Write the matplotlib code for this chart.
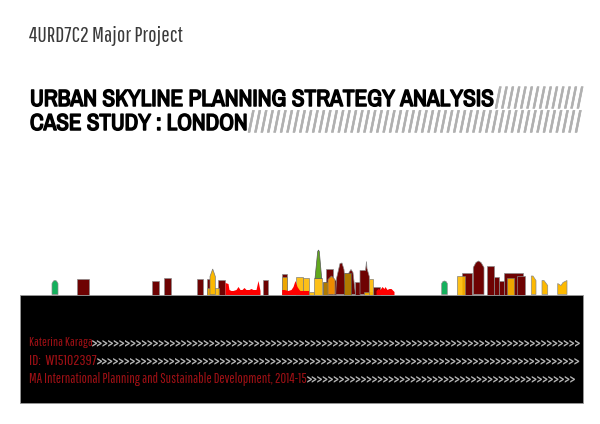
import matplotlib
matplotlib.use('Agg')
import matplotlib.pyplot as plt
import matplotlib.patheffects as pe
import logging

logging.getLogger('matplotlib.font_manager').setLevel(logging.ERROR)

LIGHT = ['Barlow Condensed Light', 'Pathway Gothic One', 'Liberation Sans', 'DejaVu Sans']
HEAVY = ['Archivo Narrow', 'Roboto Condensed', 'Liberation Sans', 'DejaVu Sans']
CHEVRON = ['Fjalla One', 'Roboto Condensed', 'Liberation Sans', 'DejaVu Sans']

heading = '4URD7C2 Major Project'
title_1 = 'URBAN SKYLINE PLANNING STRATEGY ANALYSIS'
title_2 = 'CASE STUDY : LONDON'
info_lines = ['Katerina Karaga', 'ID:  W15102397',
              'MA International Planning and Sustainable Development, 2014-15']

# building footprints, height measured from the top of the black band
dark_x0 = [76.7, 151.7, 164.3, 196.7, 206.7, 218, 263, 281.7, 326, 333, 355, 373, 461.7, 486.7, 494.3, 499, 504, 517]
dark_x1 = [89, 158.7, 171, 203.3, 213, 225, 268, 287.3, 333, 336, 360, 380, 471.7, 494.3, 499, 504, 522.7, 525]
dark_h = [15.5, 14, 17, 16, 15.5, 14.5, 14.5, 20.5, 25.5, 15, 13, 8, 22, 28.5, 18, 14, 21.5, 18.5]

yellow_x0 = [206.7, 281.7, 296, 303.3, 309, 314, 364, 369, 456.7, 506.7]
yellow_x1 = [219, 287.3, 302.7, 309, 314, 322, 372, 373, 465, 514]
yellow_h = [6.5, 17.5, 17.5, 17, 2.5, 17, 3, 15.5, 18.5, 16.5]

olive_x0 = [322.7, 344]
olive_x1 = [328, 350.7]
olive_h = [13, 22]

# shaped buildings
spire_x = [210, 210, 212.7, 215.3, 215.3]
spire_y = [0, 18, 25.5, 18, 0]
shard_x = [315, 317.7, 318.5, 319.3, 321.7]
shard_y = [16, 43, 44.5, 43, 16]
tower_x = [473.3, 473.3, 476, 478.5, 481, 484, 484]
tower_y = [0, 27, 32, 33.5, 32, 27, 0]
peak_x = [335.7, 336.5, 340, 342, 344, 346]
peak_y = [0, 16, 31, 31.5, 25, 0]
round_x = [347, 349, 351, 353, 355.5]
round_y = [0, 22, 25, 22, 0]
spike_x = [360, 360, 365.5, 366.5, 367, 369.3, 369.3]
spike_y = [0, 24, 24, 33, 26, 18, 0]
green_x = [52, 52, 53.5, 55, 56.5, 58, 58]
green_y = [0, 11, 13.5, 14, 13.5, 11, 0]
green2_x = [441.7, 441.7, 443, 444.5, 446, 447.3, 447.3]
green2_y = [0, 11, 13, 13.5, 13, 11, 0]
orange_x = [328, 328, 331.5, 335, 335]
orange_y = [0, 15, 18.5, 15, 0]
wedge_x = [[531.3, 531.3, 533, 536, 536], [542, 542, 544, 547.7, 547.7], [557.7, 557.7, 561, 563, 567, 567]]
wedge_y = [[0, 18.5, 18.5, 14, 0], [0, 14, 14, 9, 0], [0, 11, 9, 12, 14, 0]]

# low red river-front profile
red_x = [225, 228, 229, 231, 233, 236, 238, 240, 242, 244, 246, 249, 251, 253, 256, 258, 260]
red_h = [12, 11, 5, 4, 4, 5, 8, 5, 5, 7, 5, 5, 6, 5, 5, 14, 4]
red2_x = [281.7, 284, 288, 291, 293, 295, 297, 299, 300]
red2_h = [5, 5, 4, 5, 8, 14, 8, 5, 4]
red3_x = [300, 309]
red3_h = [4, 4]
red4_x = [376, 378, 380, 382, 384, 385, 387, 389, 391, 394]
red4_h = [4, 6, 5, 8, 6, 8, 5, 6, 6, 3]

GROUND = 294.5
DARK = '#6e0202'
YELLOW = '#fdb900'
EDGE = '#8a8a8a'

fig = plt.figure(figsize=(6, 4.24), dpi=100)
ax = fig.add_axes([0, 0, 1, 1])
ax.set_xlim(0, 600)
ax.set_ylim(GROUND - 424, GROUND)
ax.axis('off')

# black band
ax.bar(20, -108.5, width=562.7, align='edge', color='black', edgecolor='#999999', linewidth=0.6, zorder=5)

ax.bar(dark_x0, dark_h, width=[b - a for a, b in zip(dark_x0, dark_x1)], align='edge',
       color=DARK, edgecolor=EDGE, linewidth=0.5, zorder=2)
for xs, ys in [(peak_x, peak_y), (round_x, round_y), (spike_x, spike_y), (tower_x, tower_y)]:
    ax.fill(xs, ys, color=DARK, ec=EDGE, lw=0.5, zorder=2)
ax.bar(yellow_x0, yellow_h, width=[b - a for a, b in zip(yellow_x0, yellow_x1)], align='edge',
       color=YELLOW, edgecolor='#777777', linewidth=0.5, alpha=0.9, zorder=3)
ax.bar(olive_x0, olive_h, width=[b - a for a, b in zip(olive_x0, olive_x1)], align='edge',
       color='#b07a00', edgecolor='#555555', linewidth=0.5, zorder=3)
ax.fill(spire_x, spire_y, color=YELLOW, ec='#777777', lw=0.5, zorder=3)
ax.fill(orange_x, orange_y, color='#ef8a00', ec='#777777', lw=0.5, zorder=3)
ax.fill(shard_x, shard_y, color='#62a81e', ec='#555555', lw=0.5, zorder=3)
ax.fill(green_x, green_y, color='#14b05c', ec=EDGE, lw=0.5, zorder=3)
ax.fill(green2_x, green2_y, color='#14b05c', ec=EDGE, lw=0.5, zorder=3)
for xs, ys in zip(wedge_x, wedge_y):
    ax.fill(xs, ys, color=YELLOW, ec=EDGE, lw=0.5, zorder=3)
for xs, hs in [(red_x, red_h), (red2_x, red2_h), (red3_x, red3_h), (red4_x, red4_h)]:
    ax.fill_between(xs, 0, hs, color='#ff0000', lw=0, zorder=4)

# texts, x0/x1/y in pixels from the top left, font size is fitted to the width
renderer = fig.canvas.get_renderer()
def put(x0, x1, y, s, **kw):
    t = ax.text(x0, GROUND - y, s, va='center', ha='left', fontsize=10, zorder=6, **kw)
    w = t.get_window_extent(renderer).width
    t.set_fontsize(10 * (x1 - x0) / w)
    return t

put(29, 182, 36, heading, family=LIGHT, color='#3a3a3a')

# the narrow font has no heavy cut here, a stroke thickens it
black_stroke = [pe.withStroke(linewidth=1.1, foreground='black')]
grey_stroke = [pe.withStroke(linewidth=0.4, foreground='#b0b0b0')]
t1 = put(30, 494, 99.5, title_1, family=HEAVY, color='black')
t2 = put(30, 247, 123.5, title_2, family=HEAVY, color='black')
t1.set_path_effects(black_stroke)
t2.set_path_effects(black_stroke)
s1 = put(495, 582, 99.5, '/' * 14, family=HEAVY, color='#b0b0b0')
s2 = put(248, 577, 123.5, '/' * 52, family=HEAVY, color='#b0b0b0')
s1.set_path_effects(grey_stroke)
s2.set_path_effects(grey_stroke)

info_y = [343, 361, 379.5]
info_end = [92, 97, 307]
chevron_end = [581, 581, 579]
chevron_n = [87, 86, 49]
for s, y, x1, x2, n in zip(info_lines, info_y, info_end, chevron_end, chevron_n):
    put(29, x1, y, s, family=LIGHT, color='#a01015')
    put(x1, x2, y, '>' * n, family=CHEVRON, color='#b5b5b5')

fig.savefig('out.png', dpi=100)
